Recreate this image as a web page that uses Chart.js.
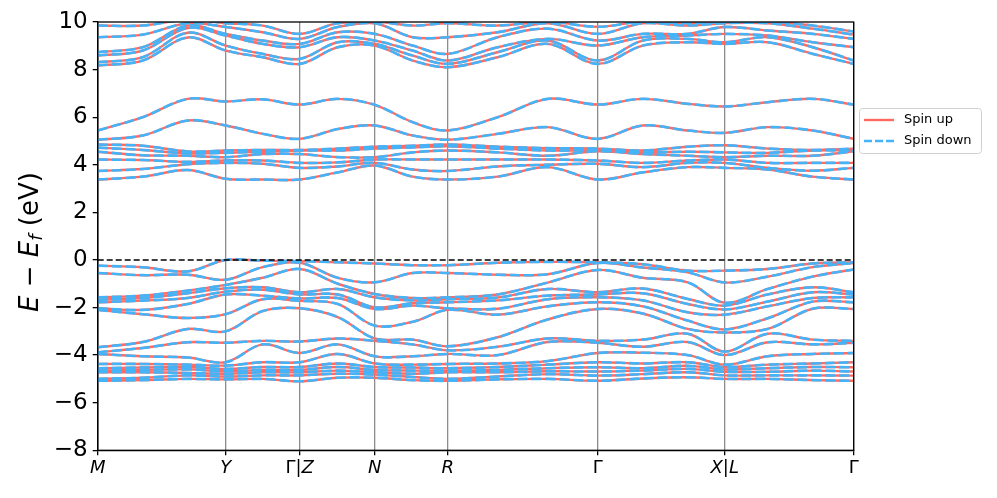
<!DOCTYPE html>
<html>
<head>
<meta charset="utf-8">
<script src="https://cdn.jsdelivr.net/npm/chart.js@4.4.0/dist/chart.umd.min.js"></script>
<style>
  body { margin: 0; background: #fff; }
  #wrap { width: 997px; height: 498px; }
</style>
</head>
<body>
<div id="wrap"><canvas id="bands" width="997" height="498"></canvas></div>
<script>
// high symmetry path
const kLabels = ['M', 'Y', 'Γ|Z', 'N', 'R', 'Γ', 'X|L', 'Γ'];
const kPos = [0, 128, 202, 277, 350, 500, 627, 756];
// k distance of the sampled points
const kSample = [0, 45, 90, 128, 165, 202, 240, 277, 315, 350, 400, 450, 500, 545, 590, 627, 670, 715, 756];
const yTicks = [-8, -6, -4, -2, 0, 2, 4, 6, 8, 10];

// valence bands (eV)
const v1 = [-0.24, -0.31, -0.48, 0.00, -0.03, -0.05, -0.10, -0.15, -0.22, -0.22, -0.12, -0.08, -0.10, -0.18, -0.45, -0.45, -0.38, -0.15, -0.10];
const v2 = [-0.55, -0.64, -0.62, -0.83, -0.30, -0.12, -0.75, -0.94, -0.55, -0.55, -0.62, -0.60, -0.13, -0.32, -0.52, -0.95, -0.70, -0.30, -0.13];
const v3 = [-1.57, -1.50, -1.29, -1.05, -0.75, -0.38, -1.00, -1.43, -1.60, -1.57, -1.45, -0.95, -0.42, -0.75, -0.94, -1.80, -1.22, -0.70, -0.40];
const v4 = [-1.67, -1.60, -1.40, -1.19, -1.15, -1.36, -1.22, -1.57, -1.70, -1.65, -1.58, -1.22, -1.36, -1.20, -1.64, -1.92, -1.45, -1.15, -1.36];
const v5 = [-1.78, -1.71, -1.60, -1.33, -1.25, -1.45, -1.45, -1.99, -1.82, -1.78, -1.70, -1.50, -1.45, -1.40, -1.85, -2.08, -1.75, -1.36, -1.45];
const v6 = [-2.03, -2.10, -1.85, -1.45, -1.50, -1.62, -1.60, -2.06, -1.92, -2.03, -2.05, -1.65, -1.57, -1.70, -2.20, -2.30, -1.95, -1.60, -1.57];
const v7 = [-2.10, -2.28, -2.44, -2.28, -1.65, -1.72, -1.85, -2.76, -2.60, -2.10, -2.30, -1.95, -1.78, -1.95, -2.55, -2.92, -2.45, -1.75, -1.78];
const v8 = [-3.67, -3.45, -2.90, -3.00, -2.15, -2.03, -2.40, -3.30, -3.35, -3.63, -3.25, -2.50, -2.06, -2.25, -2.90, -3.05, -2.90, -2.05, -2.06];
const v9 = [-3.88, -3.70, -3.46, -3.48, -3.40, -3.43, -3.30, -3.40, -3.55, -3.80, -3.65, -3.30, -3.40, -3.35, -3.10, -3.85, -3.10, -3.35, -3.40];
const v10 = [-3.95, -4.05, -4.10, -4.30, -3.55, -3.91, -3.55, -4.05, -4.05, -3.95, -4.00, -3.45, -3.48, -3.65, -3.45, -4.00, -3.46, -3.55, -3.48];
const v11 = [-4.37, -4.37, -4.40, -4.44, -4.30, -4.30, -3.95, -4.35, -4.40, -4.37, -4.35, -4.25, -3.91, -3.90, -4.00, -4.40, -4.05, -3.95, -3.91];
const v12 = [-4.55, -4.52, -4.50, -4.58, -4.50, -4.50, -4.35, -4.50, -4.52, -4.55, -4.50, -4.40, -4.30, -4.35, -4.30, -4.50, -4.40, -4.35, -4.30];
const v13 = [-4.65, -4.62, -4.60, -4.68, -4.62, -4.62, -4.50, -4.62, -4.65, -4.65, -4.62, -4.55, -4.51, -4.55, -4.45, -4.60, -4.55, -4.50, -4.51];
const v14 = [-4.72, -4.72, -4.75, -4.78, -4.72, -4.72, -4.65, -4.72, -4.78, -4.72, -4.72, -4.68, -4.69, -4.65, -4.58, -4.70, -4.70, -4.65, -4.69];
const v15 = [-5.00, -4.95, -4.85, -4.90, -4.85, -4.85, -4.78, -4.82, -4.92, -5.00, -4.90, -4.80, -4.86, -4.80, -4.72, -4.85, -4.85, -4.85, -4.86];
const v16 = [-5.08, -5.05, -5.00, -5.02, -5.00, -5.10, -4.95, -4.95, -5.05, -5.08, -5.02, -5.00, -5.08, -4.98, -4.93, -5.00, -5.00, -5.05, -5.08];

// conduction bands (eV)
const c1 = [3.38, 3.50, 3.78, 3.41, 3.38, 3.38, 3.68, 3.97, 3.50, 3.38, 3.50, 3.90, 3.38, 3.68, 3.90, 3.87, 3.80, 3.50, 3.38];
const c2 = [3.74, 3.82, 4.02, 4.08, 4.04, 3.87, 3.93, 4.08, 3.80, 3.74, 3.93, 4.00, 4.04, 3.90, 4.08, 4.08, 3.87, 3.75, 3.87];
const c3 = [4.22, 4.20, 4.12, 4.18, 4.18, 4.08, 4.10, 4.22, 4.22, 4.22, 4.22, 4.22, 4.18, 4.08, 4.18, 4.22, 4.08, 4.08, 4.08];
const c4 = [4.55, 4.40, 4.38, 4.32, 4.45, 4.45, 4.32, 4.32, 4.52, 4.60, 4.52, 4.38, 4.57, 4.45, 4.38, 4.32, 4.38, 4.38, 4.57];
const c5 = [4.72, 4.62, 4.48, 4.50, 4.55, 4.60, 4.60, 4.68, 4.73, 4.78, 4.68, 4.60, 4.60, 4.52, 4.55, 4.52, 4.50, 4.60, 4.60];
const c6 = [4.85, 4.80, 4.56, 4.60, 4.62, 4.62, 4.68, 4.76, 4.80, 4.85, 4.76, 4.70, 4.68, 4.60, 4.76, 4.82, 4.68, 4.62, 4.68];
const c7 = [5.05, 5.23, 5.86, 5.65, 5.30, 5.09, 5.50, 5.65, 5.23, 5.05, 5.30, 5.58, 5.09, 5.65, 5.44, 5.34, 5.58, 5.44, 5.09];
const c8 = [5.44, 6.00, 6.77, 6.66, 6.75, 6.53, 6.77, 6.52, 5.79, 5.44, 6.00, 6.77, 6.53, 6.77, 6.56, 6.45, 6.63, 6.77, 6.53];
const c9 = [8.17, 8.38, 9.35, 8.80, 8.52, 8.24, 8.94, 9.01, 8.38, 8.10, 8.52, 9.08, 8.24, 9.01, 9.15, 9.08, 9.15, 8.66, 8.24];
const c10 = [8.31, 8.52, 9.55, 9.01, 8.66, 8.45, 9.15, 9.08, 8.59, 8.24, 8.73, 9.22, 8.38, 9.22, 9.29, 9.15, 9.36, 8.94, 8.38];
const c11 = [8.59, 8.80, 9.75, 9.43, 9.08, 8.94, 9.36, 9.22, 8.80, 8.38, 8.94, 9.29, 9.01, 9.36, 9.43, 9.50, 9.43, 9.15, 8.94];
const c12 = [8.73, 8.94, 9.85, 9.50, 9.22, 9.08, 9.57, 9.50, 9.01, 8.66, 9.36, 9.72, 9.22, 9.50, 9.50, 9.79, 9.64, 9.50, 9.29];
const c13 = [9.36, 9.47, 9.95, 9.79, 9.57, 9.29, 9.79, 9.95, 9.36, 9.36, 9.57, 9.95, 9.50, 9.95, 9.85, 9.95, 9.95, 9.72, 9.47];
const c14 = [9.85, 9.85, 10.10, 9.95, 9.85, 9.50, 9.95, 10.02, 9.85, 9.95, 9.85, 10.02, 9.80, 10.02, 9.95, 10.00, 10.02, 9.85, 9.60];

const allBands = [v1, v2, v3, v4, v5, v6, v7, v8, v9, v10, v11, v12, v13, v14, v15, v16,
  c1, c2, c3, c4, c5, c6, c7, c8, c9, c10, c11, c12, c13, c14];

const upColor = '#ff6b63';
const downColor = '#45b3f7';

const datasets = [];
datasets.push({
  label: 'fermi',
  data: [{ x: 0, y: 0 }, { x: 756, y: 0 }],
  borderColor: '#000',
  borderWidth: 1.6,
  borderDash: [6, 3],
  pointRadius: 0,
  order: -1
});
allBands.forEach((band, i) => {
  let pts = band.map((e, j) => ({ x: kSample[j], y: e }));
  datasets.push({
    label: i === 0 ? 'Spin up' : '',
    data: pts,
    borderColor: upColor,
    borderWidth: 2.4,
    pointRadius: 0,
    tension: 0.35,
    order: 2
  });
  datasets.push({
    label: i === 0 ? 'Spin down' : '',
    data: pts,
    borderColor: downColor,
    borderWidth: 2.6,
    borderDash: [10, 4],
    pointRadius: 0,
    tension: 0.35,
    order: 1
  });
});

// draws text pieces with their own fonts, centred on 0
function drawPieces(ctx, parts, y) {
  let total = 0;
  parts.forEach(p => { ctx.font = p.f; p.w = ctx.measureText(p.t).width; total += p.w; });
  let px = -total / 2;
  parts.forEach(p => {
    ctx.font = p.f;
    ctx.fillText(p.t, px, y + (p.dy || 0));
    px += p.w;
  });
}

// box round the plot + legend + axis texts
const extras = {
  id: 'extras',
  afterDraw(chart) {
    const ctx = chart.ctx;
    const a = chart.chartArea;
    ctx.save();
    ctx.strokeStyle = '#000';
    ctx.lineWidth = 1.3;
    ctx.strokeRect(a.left, a.top, a.right - a.left, a.bottom - a.top);

    // legend
    let lx = 859, ly = 108, lw = 122, lh = 45;
    ctx.fillStyle = 'rgba(255,255,255,0.9)';
    ctx.strokeStyle = '#d0d0d0';
    ctx.lineWidth = 1;
    ctx.beginPath();
    ctx.roundRect(lx + 0.5, ly + 0.5, lw, lh, 3);
    ctx.fill();
    ctx.stroke();
    ctx.lineWidth = 2.4;
    ctx.strokeStyle = upColor;
    ctx.beginPath();
    ctx.moveTo(864, 120); ctx.lineTo(894, 120);
    ctx.stroke();
    ctx.strokeStyle = downColor;
    ctx.setLineDash([8, 3]);
    ctx.beginPath();
    ctx.moveTo(864, 141); ctx.lineTo(894, 141);
    ctx.stroke();
    ctx.setLineDash([]);
    ctx.fillStyle = '#000';
    ctx.font = '13px "DejaVu Sans"';
    ctx.textBaseline = 'middle';
    ctx.fillText('Spin up', 904, 120);
    ctx.fillText('Spin down', 904, 141);

    // x labels: Greek upright, Latin italic
    const xs = chart.scales.x;
    ctx.textBaseline = 'alphabetic';
    kLabels.forEach((lab, i) => {
      let parts = Array.from(lab).map(ch => ({
        t: ch,
        f: (ch === 'Γ' || ch === '|') ? '18px "DejaVu Sans"' : 'italic 18px "DejaVu Sans"'
      }));
      ctx.save();
      ctx.translate(xs.getPixelForValue(kPos[i]), 0);
      drawPieces(ctx, parts, 473);
      ctx.restore();
    });

    // y axis title: E − E_f (eV)
    const parts = [
      { t: 'E', f: 'italic 26px "DejaVu Sans"' },
      { t: ' \u2212 ', f: '26px "DejaVu Sans"' },
      { t: 'E', f: 'italic 26px "DejaVu Sans"' },
      { t: 'f', f: 'italic 18px "DejaVu Sans"', dy: 6 },
      { t: ' (eV)', f: '26px "DejaVu Sans"' }
    ];
    ctx.translate(31, 242);
    ctx.rotate(-Math.PI / 2);
    ctx.textBaseline = 'middle';
    drawPieces(ctx, parts, 0);
    ctx.restore();
  }
};

new Chart(document.getElementById('bands'), {
  type: 'line',
  data: { datasets: datasets },
  options: {
    responsive: false,
    animation: false,
    devicePixelRatio: 1,
    layout: { padding: { left: 0, right: 143.3, top: 22, bottom: 0 } },
    plugins: {
      legend: { display: false },
      tooltip: { enabled: false }
    },
    scales: {
      x: {
        type: 'linear',
        min: 0,
        max: 756,
        afterBuildTicks: (scale) => {
          scale.ticks = kPos.map(v => ({ value: v }));
        },
        afterFit: (scale) => { scale.height = 47.7; },
        ticks: {
          display: false,
          autoSkip: false,
          maxRotation: 0
        },
        grid: {
          color: 'rgba(0,0,0,0.45)',
          lineWidth: 1.3,
          tickColor: '#000',
          tickLength: 5
        },
        border: { color: '#000', width: 1.3 }
      },
      y: {
        min: -8,
        max: 10,
        afterBuildTicks: (scale) => {
          scale.ticks = yTicks.map(v => ({ value: v }));
        },
        afterFit: (scale) => { scale.width = 97.7; },
        ticks: {
          padding: 5,
          color: '#000',
          font: { family: 'DejaVu Sans', size: 23 },
          callback: (v) => (v < 0 ? '\u2212' + Math.abs(v) : '' + v)
        },
        grid: {
          drawOnChartArea: false,
          tickColor: '#000',
          tickLength: 5,
          lineWidth: 1.3
        },
        border: { color: '#000', width: 1.3 }
      }
    }
  },
  plugins: [extras]
});
</script>
</body>
</html>
